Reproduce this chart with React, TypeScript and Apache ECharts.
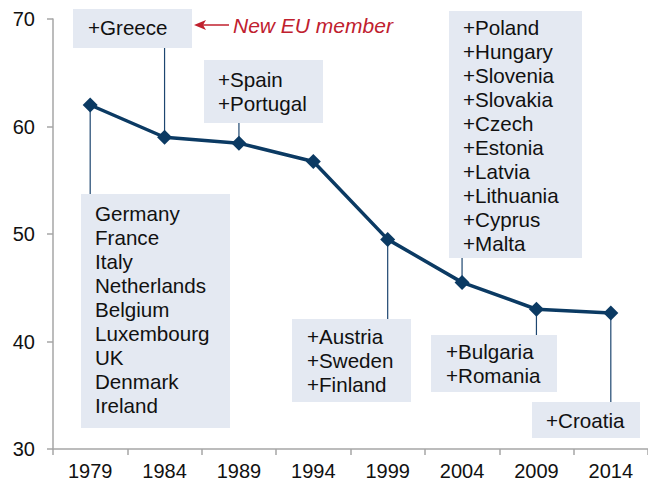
import React, { useEffect, useRef } from "react";
import * as echarts from "echarts";

const years = ["1979", "1984", "1989", "1994", "1999", "2004", "2009", "2014"];
const values = [62.0, 59.0, 58.45, 56.75, 49.5, 45.5, 43.0, 42.65];
const yTicks = { min: 30, max: 70, interval: 10 };

const members1979 = ["Germany", "France", "Italy", "Netherlands", "Belgium", "Luxembourg", "UK", "Denmark", "Ireland"];
const members1984 = ["+Greece"];
const members1989 = ["+Spain", "+Portugal"];
const members1999 = ["+Austria", "+Sweden", "+Finland"];
const members2004 = ["+Poland", "+Hungary", "+Slovenia", "+Slovakia", "+Czech", "+Estonia", "+Latvia", "+Lithuania", "+Cyprus", "+Malta"];
const members2009 = ["+Bulgaria", "+Romania"];
const members2014 = ["+Croatia"];
const arrowLabel = "New EU member";

// layout of the annotation boxes (pixels): dx = box left relative to marker x
const boxes = [
  { idx: 0, lines: members1979, dx: -9, top: 194, w: 149, h: 234, pad: 14, first: 214 },
  { idx: 1, lines: members1984, dx: -92, top: 9, w: 119, h: 39, pad: 15, first: 28 },
  { idx: 2, lines: members1989, dx: -35, top: 60, w: 119, h: 63, pad: 14, first: 80 },
  { idx: 4, lines: members1999, dx: -96, top: 319, w: 119, h: 83, pad: 15, first: 337 },
  { idx: 5, lines: members2004, dx: -13, top: 11, w: 133, h: 247, pad: 14, first: 28 },
  { idx: 6, lines: members2009, dx: -105, top: 335, w: 126, h: 57, pad: 15, first: 352 },
  { idx: 7, lines: members2014, dx: -79, top: 402, w: 108, h: 36, pad: 14, first: 421 },
];

const NAVY = "#0b3a63";
const BOX = "#e4e9f2";
const FONT = '"Liberation Sans", Arial, sans-serif';

export default function App() {
  const ref = useRef<HTMLDivElement>(null);
  useEffect(() => {
    if (!ref.current) return;
    const chart = echarts.init(ref.current, null, { renderer: "svg" });
    chart.setOption({
      animation: false,
      grid: { left: 53, right: -2, top: 19, bottom: 36 },
      xAxis: {
        type: "category",
        data: years,
        boundaryGap: true,
        axisLine: { show: true, lineStyle: { color: "#a6a6a6", width: 1.5 } },
        axisTick: { show: true, length: 6, lineStyle: { color: "#a6a6a6", width: 1.5 } },
        axisLabel: { fontSize: 20, color: "#111", fontFamily: FONT, margin: 12 },
      },
      yAxis: {
        type: "value",
        min: yTicks.min,
        max: yTicks.max,
        interval: yTicks.interval,
        axisLine: { show: true, lineStyle: { color: "#a6a6a6", width: 1.5 } },
        axisTick: { show: true, length: 6, lineStyle: { color: "#a6a6a6", width: 1.5 } },
        splitLine: { show: false },
        axisLabel: { fontSize: 20, color: "#111", fontFamily: FONT, margin: 18 },
      },
      series: [
        {
          type: "line",
          data: values,
          z: 5,
          symbol: "diamond",
          symbolSize: 15,
          lineStyle: { color: NAVY, width: 3.5 },
          itemStyle: { color: NAVY },
          label: { show: false },
        },
      ],
    });

    const elements: any[] = [];
    boxes.forEach((b) => {
      const p = chart.convertToPixel({ gridIndex: 0 }, [b.idx, values[b.idx]]) as number[];
      const left = Math.round(p[0] + b.dx);
      const bottom = b.top + b.h;
      if (bottom < p[1]) {
        elements.push({ type: "line", z: 1, shape: { x1: p[0], y1: bottom, x2: p[0], y2: p[1] }, style: { stroke: "#1d4670", lineWidth: 1.2 } });
      } else {
        elements.push({ type: "line", z: 1, shape: { x1: p[0], y1: p[1], x2: p[0], y2: b.top }, style: { stroke: "#1d4670", lineWidth: 1.2 } });
      }
      elements.push({ type: "rect", z: 2, shape: { x: left, y: b.top, width: b.w, height: b.h }, style: { fill: BOX } });
      elements.push({
        type: "text",
        z: 3,
        x: left + b.pad,
        y: b.first - 13,
        style: { text: b.lines.join("\n"), font: `20.6px ${FONT}`, fill: "#111", lineHeight: 24, verticalAlign: "top", align: "left" },
      });
      if (b.idx === 1) {
        const ax = left + b.w + 2;
        const ay = 25;
        elements.push({ type: "line", z: 3, shape: { x1: ax + 8, y1: ay, x2: ax + 35, y2: ay }, style: { stroke: "#c0202e", lineWidth: 1.5 } });
        elements.push({ type: "polygon", z: 3, shape: { points: [[ax, ay], [ax + 12, ay - 5], [ax + 9, ay], [ax + 12, ay + 5]] }, style: { fill: "#c0202e" } });
        elements.push({
          type: "text",
          z: 3,
          x: ax + 39,
          y: ay,
          style: { text: arrowLabel, font: `italic 21px ${FONT}`, fill: "#c0202e", verticalAlign: "middle", align: "left" },
        });
      }
    });
    chart.setOption({ graphic: { elements } });
    return () => chart.dispose();
  }, []);
  return <div ref={ref} style={{ position: "absolute", left: 0, top: 0, width: 648, height: 485 }} />;
}
